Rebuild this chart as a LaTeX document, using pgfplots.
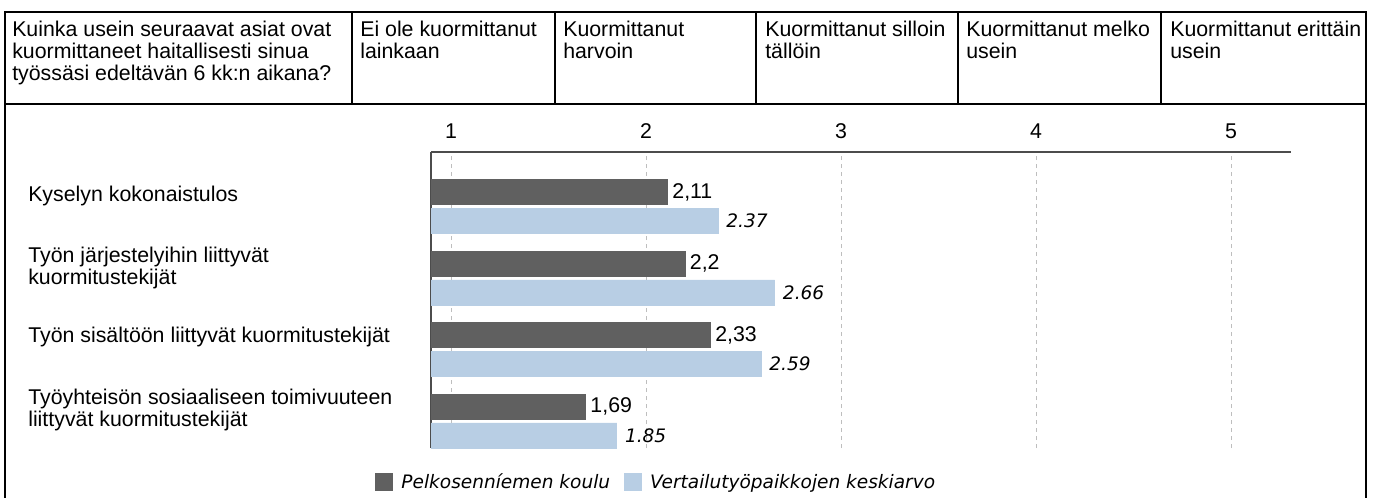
\documentclass[border=0pt]{standalone}
\usepackage{pgfplots}
\pgfplotsset{compat=1.18}
\usepackage{pgfplotstable}
\usepackage{fontspec}
\setmainfont{Liberation Sans}
\newfontfamily\vfont{DejaVu Sans}
\definecolor{darkbar}{HTML}{606060}
\definecolor{lightbar}{HTML}{B8CEE4}
\definecolor{gridc}{HTML}{BEBEBE}

\pgfplotstableread{
x y lab
2.11 4 2,11
2.2 3 2,2
2.33 2 2,33
1.69 1 1,69
}\darkdata

\pgfplotstableread{
x y lab
2.37 4 2.37
2.66 3 2.66
2.59 2 2.59
1.85 1 1.85
}\lightdata

\begin{document}
\begin{tikzpicture}[x=0.75pt,y=0.75pt]
\path[use as bounding box] (0,0) rectangle (1377,497);
% frame
\draw[line width=1.5pt] (5,485) rectangle (1366,393);
\foreach \xx in {352,555,756,958,1161} \draw[line width=1.5pt] (\xx,485)--(\xx,393);
\draw[line width=1.5pt] (5,393)--(5,-2) (1366,393)--(1366,-2);

\begin{scope}[every node/.style={anchor=base west, inner sep=0pt, font=\fontsize{16}{19}\selectfont}]
\node at (12,460) {Kuinka usein seuraavat asiat ovat};
\node at (12,438) {kuormittaneet haitallisesti sinua};
\node at (12,416) {työssäsi edeltävän 6 kk:n aikana?};
\node at (360,460) {Ei ole kuormittanut};
\node at (360,438) {lainkaan};
\node at (563,460) {Kuormittanut};
\node at (563,438) {harvoin};
\node at (765,460) {Kuormittanut silloin};
\node at (765,438) {tällöin};
\node at (966,460) {Kuormittanut melko};
\node at (966,438) {usein};
\node at (1170,460) {Kuormittanut erittäin};
\node at (1170,438) {usein};
\node at (28,296) {Kyselyn kokonaistulos};
\node at (28,235) {Työn järjestelyihin liittyvät};
\node at (28,213) {kuormitustekijät};
\node at (28,155) {Työn sisältöön liittyvät kuormitustekijät};
\node at (28,93) {Työyhteisön sosiaaliseen toimivuuteen};
\node at (28,71) {liittyvät kuormitustekijät};
\end{scope}

\begin{axis}[
 at={(323.25pt,36.75pt)}, anchor=south west, scale only axis,
 width=645pt, height=222pt,
 xmin=0.8974, xmax=5.3077, ymin=0.6224, ymax=4.762,
 axis x line*=top, axis y line*=left,
 axis line style={draw=black!70, line width=1.1pt},
 xtick={1,2,3,4,5}, ytick=\empty,
 major tick length=0pt,
 xmajorgrids, major grid style={gridc, dashed, line width=0.75pt},
 /pgf/number format/assume math mode=true,
 xticklabel style={font=\fontsize{16}{16}\selectfont, yshift=6.25pt},
 xbar, bar width=0.35,
 legend style={at={(axis description cs:-0.0651,-0.1149)}, anchor=west, draw=none, fill=none, inner sep=0pt,
   font=\vfont\itshape\fontsize{13.9}{16}\selectfont, legend columns=2,
   /tikz/every odd column/.append style={column sep=4.5pt},
   /tikz/every even column/.append style={column sep=8.25pt}},
 legend image code/.code={\fill[#1] (0pt,-6.4pt) rectangle (12.75pt,6.4pt);},
]
\addplot[fill=darkbar, draw=darkbar, bar shift=0.2, point meta=explicit symbolic,
  nodes near coords={\pgfplotspointmeta},
  every node near coord/.append style={font=\fontsize{16}{16}\selectfont, inner sep=0pt, xshift=3.5pt, anchor=west, text=black}]
  table[x=x,y=y,meta=lab]{\darkdata};
\addplot[fill=lightbar, draw=lightbar, bar shift=-0.2, point meta=explicit symbolic,
  nodes near coords={\pgfplotspointmeta},
  every node near coord/.append style={font=\vfont\itshape\fontsize{13.9}{16}\selectfont, inner sep=0pt, xshift=6pt, anchor=west, text=black}]
  table[x=x,y=y,meta=lab]{\lightdata};
\legend{Pelkosenníemen koulu, Vertailutyöpaikkojen keskiarvo}
\end{axis}
\end{tikzpicture}
\end{document}
